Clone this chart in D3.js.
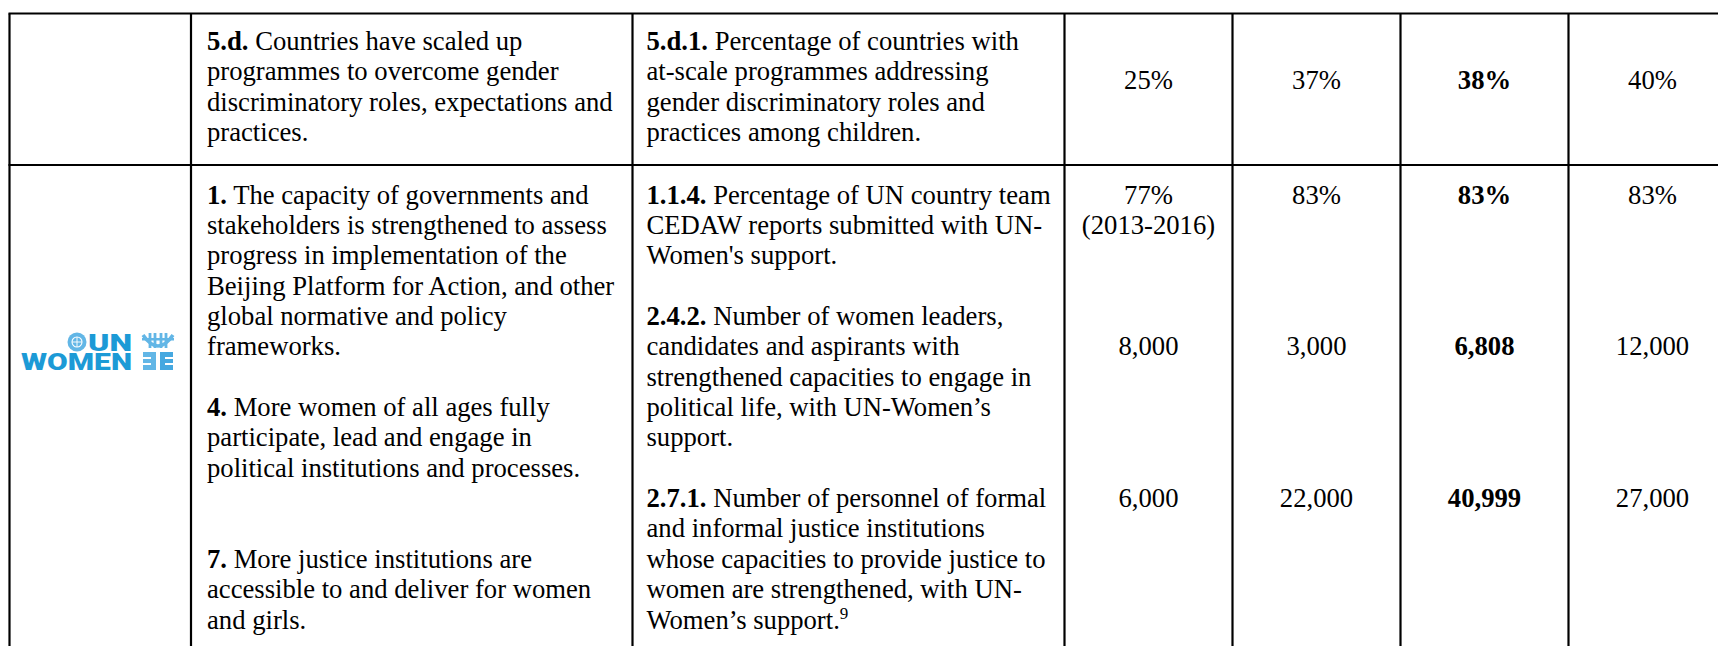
<!DOCTYPE html>
<html>
<head>
<meta charset="utf-8">
<script src="https://cdn.jsdelivr.net/npm/d3@7/dist/d3.min.js"></script>
<style>
  body { margin: 0; background: #fff; }
  text { font-family: 'Liberation Serif', 'Times New Roman', serif; fill: #000; }
</style>
</head>
<body>
<div id="chart"></div>
<script>
// columns of the results table (headers are above the visible part)
let value_cols = ['baseline', 'milestone', 'actual', 'target'];
let bold_col = 'actual';

// row 1 : strategic plan output 5.d
let row1_outcome = { lead: '5.d.', lines: [' Countries have scaled up', 'programmes to overcome gender', 'discriminatory roles, expectations and', 'practices.'] };
let row1_indicator = { lead: '5.d.1.', lines: [' Percentage of countries with', 'at-scale programmes addressing', 'gender discriminatory roles and', 'practices among children.'] };
let row1_values = ['25%', '37%', '38%', '40%'];

// row 2 : UN-Women
let row2_outcomes = [
  { lead: '1.', lines: [' The capacity of governments and', 'stakeholders is strengthened to assess', 'progress in implementation of the', 'Beijing Platform for Action, and other', 'global normative and policy', 'frameworks.'] },
  { lead: '4.', lines: [' More women of all ages fully', 'participate, lead and engage in', 'political institutions and processes.'] },
  { lead: '7.', lines: [' More justice institutions are', 'accessible to and deliver for women', 'and girls.'] }
];
let row2_indicators = [
  { lead: '1.1.4.', lines: [' Percentage of UN country team', 'CEDAW reports submitted with UN-', "Women's support."] },
  { lead: '2.4.2.', lines: [' Number of women leaders,', 'candidates and aspirants with', 'strengthened capacities to engage in', 'political life, with UN-Women\u2019s', 'support.'] },
  { lead: '2.7.1.', lines: [' Number of personnel of formal', 'and informal justice institutions', 'whose capacities to provide justice to', 'women are strengthened, with UN-', 'Women\u2019s support.'], note: '9' }
];
let ind114_values = [['77%', '(2013-2016)'], ['83%'], ['83%'], ['83%']];
let ind242_values = ['8,000', '3,000', '6,808', '12,000'];
let ind271_values = ['6,000', '22,000', '40,999', '27,000'];

let chart_width = 1718;
let chart_height = 646;
let font_size = 26.67;
let line_h = 30.36;

let svg = d3
  .select('#chart')
  .append('svg')
  .attr('width', chart_width)
  .attr('height', chart_height);

svg.append('rect').attr('width', chart_width).attr('height', chart_height).attr('fill', '#fff');

// column edges
let col_x = d3
  .scaleOrdinal()
  .domain(['logo', 'outcome', 'indicator'].concat(value_cols))
  .range([9.5, 191, 632.5, 1064.5, 1232.5, 1400.5, 1568.5]);

let val_x = d3
  .scaleBand()
  .domain(value_cols)
  .range([1064.5, 1736.5]);

// line index -> baseline, one scale per row
let row1_y = d3.scaleLinear().domain([0, 1]).range([50, 50 + line_h]);
let row2_y = d3.scaleLinear().domain([0, 1]).range([203.5, 203.5 + line_h]);

let row_tops = [13.5, 165];

let txt = svg.append('g').attr('font-size', font_size);

function paragraph(x, y_scale, start, p) {
  p.lines.forEach((line, i) => {
    let t = txt
      .append('text')
      .attr('x', x)
      .attr('y', y_scale(start + i));
    if (i == 0) {
      t.append('tspan').attr('font-weight', 'bold').text(p.lead);
    }
    t.append('tspan').text(line);
    if (p.note && i == p.lines.length - 1) {
      t.append('tspan')
        .attr('font-size', 17)
        .attr('dy', -10)
        .text(p.note);
    }
  });
}

function value(col, y, v) {
  txt
    .append('text')
    .attr('x', val_x(col) + val_x.bandwidth() / 2)
    .attr('y', y)
    .attr('text-anchor', 'middle')
    .attr('font-weight', col == bold_col ? 'bold' : 'normal')
    .text(v);
}

// row 1
paragraph(col_x('outcome') + 16, row1_y, 0, row1_outcome);
paragraph(col_x('indicator') + 14, row1_y, 0, row1_indicator);
value_cols.forEach((c, i) => value(c, row1_y(1.3), row1_values[i]));

// row 2 (line slot where each paragraph starts)
let outcome_slot = [0, 7, 12];
let indicator_slot = [0, 4, 10];
row2_outcomes.forEach((p, i) => paragraph(col_x('outcome') + 16, row2_y, outcome_slot[i], p));
row2_indicators.forEach((p, i) => paragraph(col_x('indicator') + 14, row2_y, indicator_slot[i], p));

value_cols.forEach((c, i) => {
  ind114_values[i].forEach((v, j) => value(c, row2_y(j), v));
  value(c, row2_y(5), ind242_values[i]);
  value(c, row2_y(10), ind271_values[i]);
});

// grid lines
let grid = svg.append('g').attr('stroke', '#000').attr('stroke-width', 2.2);
grid
  .selectAll('line.h')
  .data(row_tops)
  .enter()
  .append('line')
  .attr('x1', col_x('logo') - 1)
  .attr('x2', chart_width)
  .attr('y1', d => d)
  .attr('y2', d => d);
grid
  .selectAll('line.v')
  .data(col_x.range())
  .enter()
  .append('line')
  .attr('x1', d => d)
  .attr('x2', d => d)
  .attr('y1', row_tops[0])
  .attr('y2', chart_height);

// UN Women logo
let logo = svg.append('g').attr('transform', 'translate(21,333)');
let blue = '#1c9ad6';
let light = '#62b6e6';
logo.append('circle').attr('cx', 56).attr('cy', 9).attr('r', 9.5).attr('fill', light);
logo
  .append('circle')
  .attr('cx', 56)
  .attr('cy', 9)
  .attr('r', 5)
  .attr('fill', 'none')
  .attr('stroke', '#fff')
  .attr('stroke-width', 1.1);
logo
  .append('path')
  .attr('d', 'M51,9 H61 M56,4 V14')
  .attr('stroke', '#fff')
  .attr('stroke-width', 0.9);
logo
  .append('text')
  .attr('x', 67)
  .attr('y', 18)
  .attr('textLength', 44)
  .attr('lengthAdjust', 'spacingAndGlyphs')
  .style('font-family', 'Roboto, Arial, sans-serif')
  .style('font-weight', 900)
  .style('font-size', '23px')
  .style('fill', blue)
  .text('UN');
logo
  .append('text')
  .attr('x', 0)
  .attr('y', 37)
  .attr('textLength', 111)
  .attr('lengthAdjust', 'spacingAndGlyphs')
  .style('font-family', 'Roboto, Arial, sans-serif')
  .style('font-weight', 900)
  .style('font-size', '23px')
  .style('fill', blue)
  .text('WOMEN');
// emblem
let icon = logo.append('g').attr('transform', 'translate(121,0)');
icon
  .append('path')
  .attr('d', 'M1,2 Q16,24 31,2')
  .attr('fill', 'none')
  .attr('stroke', light)
  .attr('stroke-width', 3.5);
[8, 13, 19, 24].forEach(x => {
  icon.append('rect').attr('x', x - 1.4).attr('y', 0).attr('width', 2.8).attr('height', 15).attr('fill', light);
});
icon.append('rect').attr('x', 0).attr('y', 5).attr('width', 32).attr('height', 2.5).attr('fill', light);
icon.append('rect').attr('x', 1).attr('y', 19).attr('width', 13).attr('height', 18).attr('fill', light);
icon.append('rect').attr('x', 18).attr('y', 19).attr('width', 13).attr('height', 18).attr('fill', '#45a8e0');
[24, 30].forEach(y => {
  icon.append('rect').attr('x', 1).attr('y', y).attr('width', 8).attr('height', 2).attr('fill', '#fff');
  icon.append('rect').attr('x', 23).attr('y', y).attr('width', 8).attr('height', 2).attr('fill', '#fff');
});
</script>
</body>
</html>
